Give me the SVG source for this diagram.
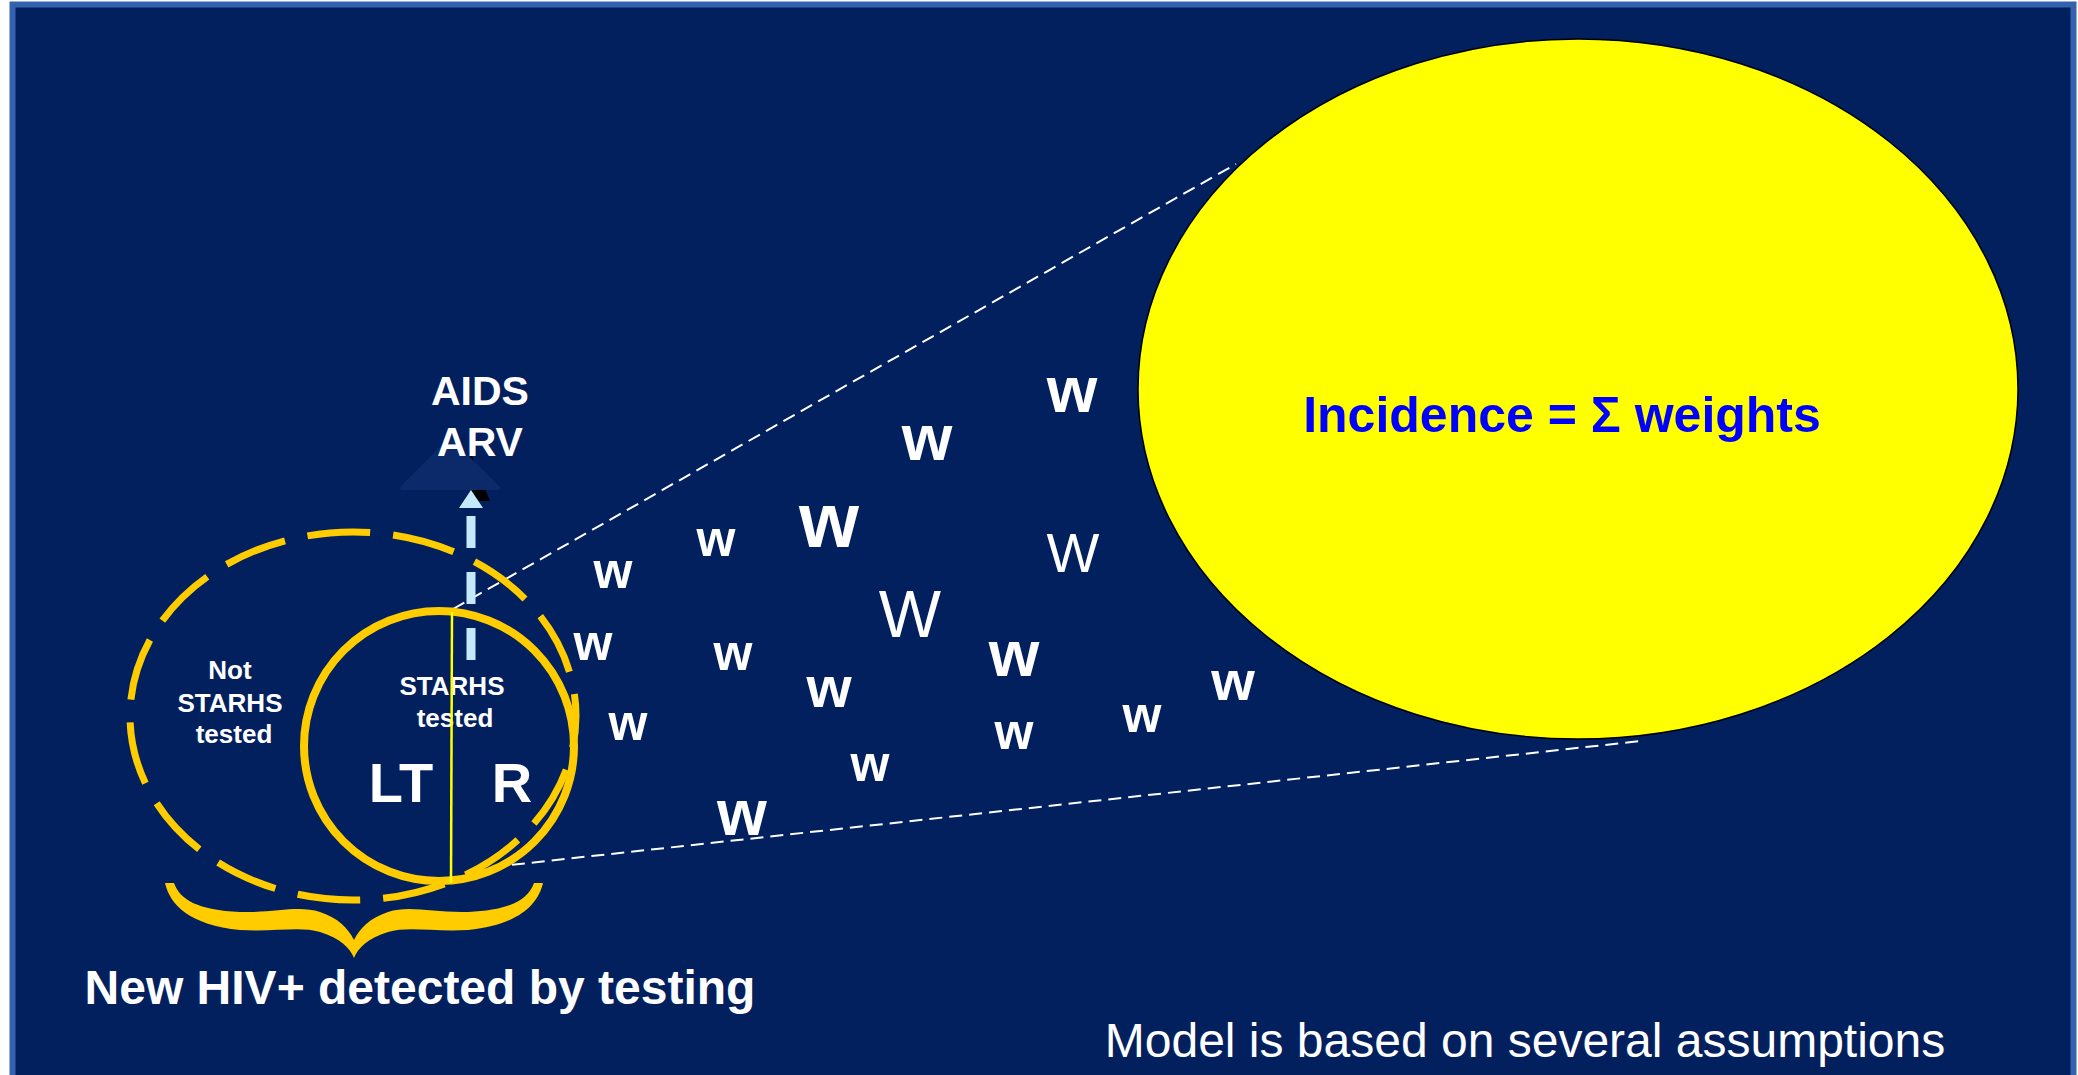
<svg xmlns="http://www.w3.org/2000/svg" width="2078" height="1075" viewBox="0 0 2078 1075">
<defs>
<style>
.t{font-family:"Liberation Sans",Arial,sans-serif;fill:#ffffff;text-anchor:middle}
.b{font-weight:bold}
.wb{font-family:"Liberation Sans",Arial,sans-serif;font-weight:bold;fill:#ffffff;text-anchor:middle}
.wr{font-family:"Liberation Sans",Arial,sans-serif;fill:#ffffff;text-anchor:middle}
.conn{stroke:#ffffff;stroke-width:2;stroke-dasharray:13 7;fill:none}
</style>
</defs>
<rect x="0" y="0" width="2078" height="1075" fill="#ffffff"/>
<rect id="frame" x="12.5" y="4.5" width="2061" height="1100" fill="#02205e" stroke="#3461b0" stroke-width="6"/>

<g id="connectors">
<line class="conn" x1="453" y1="609" x2="1236" y2="164"/>
<line class="conn" x1="492" y1="867" x2="1641" y2="741"/>
</g>

<g id="incidence">
<ellipse cx="1578" cy="389" rx="440" ry="350" fill="#ffff00" stroke="#000000" stroke-width="1.5"/>
<text x="1562" y="432" font-family="Liberation Sans,Arial,sans-serif" font-weight="bold" font-size="50" fill="#0000ff" text-anchor="middle">Incidence = Σ weights</text>
</g>

<g id="not-tested">
<ellipse cx="353" cy="716" rx="223" ry="184" fill="none" stroke="#ffcc00" stroke-width="7" stroke-dasharray="63 23" stroke-dashoffset="31"/>
<text class="t b" font-size="26" x="230" y="679">Not</text>
<text class="t b" font-size="26" x="230" y="712">STARHS</text>
<text class="t b" font-size="26" x="234" y="743">tested</text>
</g>

<g id="tested">
<circle cx="439" cy="746" r="135" fill="none" stroke="#ffcc00" stroke-width="8"/>
<text class="t b" font-size="26" x="452" y="695">STARHS</text>
<text class="t b" font-size="26" x="455" y="727">tested</text>
<text class="t b" font-size="56" x="401" y="802">LT</text>
<text class="t b" font-size="56" x="512" y="802">R</text>
<line x1="452" y1="612" x2="451" y2="883" stroke="#ffff00" stroke-width="2.5"/>
</g>

<g id="brace">
<path fill="#ffcc00" d="M165,883 C170,905 190,925 240,930 C275,932 300,926 320,932 C340,938 350,948 354,958 C358,948 368,938 388,932 C408,926 433,932 468,930 C518,925 538,905 543,883 L534,883 C528,900 510,910 468,912 C433,913 410,905 388,912 C370,918 360,928 354,940 C348,928 338,918 320,912 C298,905 275,913 240,912 C198,910 180,900 174,883 Z"/>
<text class="t b" font-size="48" x="420" y="1004">New HIV+ detected by testing</text>
</g>

<g id="aids-arv">
<polygon points="469,449 490,501 472,501" fill="#000000"/>
<polygon points="402,488 498,488 450,440" fill="#0c2a6a" stroke="#0c2a6a" stroke-width="4" stroke-linejoin="round"/>
<text class="t b" font-size="41" x="480" y="405">AIDS</text>
<text class="t b" font-size="41" x="480" y="456">ARV</text>
<line x1="471" y1="660" x2="471" y2="508" stroke="#c5e8fa" stroke-width="9" stroke-dasharray="32 24"/>
<polygon points="459,508 483,508 471,490" fill="#c5e8fa"/>
</g>

<g id="weights">
<text class="wb" font-size="65" x="1072" y="412">w</text>
<text class="wb" font-size="65" x="927" y="460">w</text>
<text class="wb" font-size="77" x="829" y="547">w</text>
<text class="wb" font-size="50" x="716" y="556">w</text>
<text class="wb" font-size="50" x="613" y="588">w</text>
<text class="wr" font-size="56" x="1073" y="572">W</text>
<text class="wr" font-size="66" x="910" y="637">W</text>
<text class="wb" font-size="50" x="593" y="660">w</text>
<text class="wb" font-size="50" x="733" y="670">w</text>
<text class="wb" font-size="65" x="1014" y="676">w</text>
<text class="wb" font-size="58" x="829" y="707">w</text>
<text class="wb" font-size="50" x="628" y="740">w</text>
<text class="wb" font-size="56" x="1233" y="700">w</text>
<text class="wb" font-size="50" x="1142" y="732">w</text>
<text class="wb" font-size="50" x="1014" y="749">w</text>
<text class="wb" font-size="50" x="870" y="781">w</text>
<text class="wb" font-size="64" x="742" y="835">w</text>
</g>

<g id="note">
<text class="t" font-size="48" x="1525" y="1057">Model is based on several assumptions</text>
</g>
</svg>
